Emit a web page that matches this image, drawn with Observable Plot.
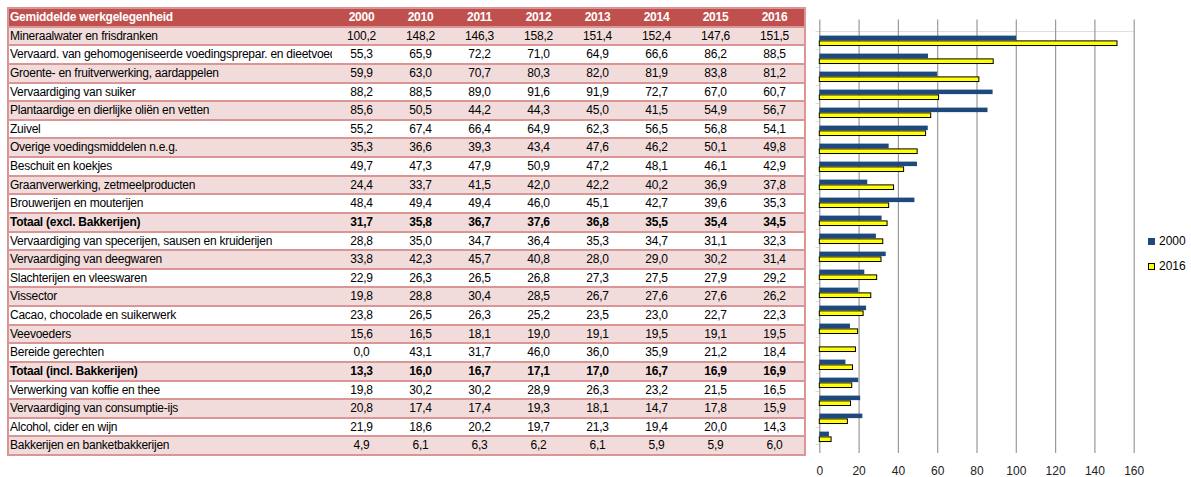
<!DOCTYPE html>
<html><head><meta charset="utf-8">
<script src="https://cdn.jsdelivr.net/npm/d3@7"></script>
<script src="https://cdn.jsdelivr.net/npm/@observablehq/plot@0.6"></script>
<style>
body{margin:0;background:#fff;font-family:"Liberation Sans",Arial,sans-serif;}
#wrap{position:relative;width:1191px;height:477px;overflow:hidden;}
.row{position:absolute;left:7px;width:799px;box-sizing:border-box;border:2px solid #D99694;display:flex;font-size:12px;letter-spacing:-0.25px;color:#000;}
.row div{white-space:nowrap;overflow:hidden;}
.lab{width:322px;padding-left:1px;flex:none;}
.num{width:59px;flex:none;text-align:center;}
.hdr{background:#C0504D;color:#fff;font-weight:bold;}
.pink{background:#F2DCDB;}
.bold{font-weight:bold;}
#chart{position:absolute;left:790px;top:0;}
.leg{position:absolute;left:1148px;font-size:12px;display:flex;align-items:center;color:#000;}
.sw{width:7px;height:7px;box-sizing:border-box;margin-right:4px;}
</style>
</head><body>
<div id="wrap"></div>
<script>
const headerLabel = "Gemiddelde werkgelegenheid";
const years = ["2000","2010","2011","2012","2013","2014","2015","2016"];
const categories = [
  "Mineraalwater en frisdranken",
  "Vervaard. van gehomogeniseerde voedingsprepar. en dieetvoeding",
  "Groente- en fruitverwerking, aardappelen",
  "Vervaardiging van suiker",
  "Plantaardige en dierlijke oliën en vetten",
  "Zuivel",
  "Overige voedingsmiddelen n.e.g.",
  "Beschuit en koekjes",
  "Graanverwerking, zetmeelproducten",
  "Brouwerijen en mouterijen",
  "Totaal (excl. Bakkerijen)",
  "Vervaardiging van specerijen, sausen en kruiderijen",
  "Vervaardiging van deegwaren",
  "Slachterijen en vleeswaren",
  "Vissector",
  "Cacao, chocolade en suikerwerk",
  "Veevoeders",
  "Bereide gerechten",
  "Totaal (incl. Bakkerijen)",
  "Verwerking van koffie en thee",
  "Vervaardiging van consumptie-ijs",
  "Alcohol, cider en wijn",
  "Bakkerijen en banketbakkerijen"
];
const boldRows = ["Totaal (excl. Bakkerijen)", "Totaal (incl. Bakkerijen)"];
const values = [
  [100.2,148.2,146.3,158.2,151.4,152.4,147.6,151.5],
  [55.3,65.9,72.2,71.0,64.9,66.6,86.2,88.5],
  [59.9,63.0,70.7,80.3,82.0,81.9,83.8,81.2],
  [88.2,88.5,89.0,91.6,91.9,72.7,67.0,60.7],
  [85.6,50.5,44.2,44.3,45.0,41.5,54.9,56.7],
  [55.2,67.4,66.4,64.9,62.3,56.5,56.8,54.1],
  [35.3,36.6,39.3,43.4,47.6,46.2,50.1,49.8],
  [49.7,47.3,47.9,50.9,47.2,48.1,46.1,42.9],
  [24.4,33.7,41.5,42.0,42.2,40.2,36.9,37.8],
  [48.4,49.4,49.4,46.0,45.1,42.7,39.6,35.3],
  [31.7,35.8,36.7,37.6,36.8,35.5,35.4,34.5],
  [28.8,35.0,34.7,36.4,35.3,34.7,31.1,32.3],
  [33.8,42.3,45.7,40.8,28.0,29.0,30.2,31.4],
  [22.9,26.3,26.5,26.8,27.3,27.5,27.9,29.2],
  [19.8,28.8,30.4,28.5,26.7,27.6,27.6,26.2],
  [23.8,26.5,26.3,25.2,23.5,23.0,22.7,22.3],
  [15.6,16.5,18.1,19.0,19.1,19.5,19.1,19.5],
  [0.0,43.1,31.7,46.0,36.0,35.9,21.2,18.4],
  [13.3,16.0,16.7,17.1,17.0,16.7,16.9,16.9],
  [19.8,30.2,30.2,28.9,26.3,23.2,21.5,16.5],
  [20.8,17.4,17.4,19.3,18.1,14.7,17.8,15.9],
  [21.9,18.6,20.2,19.7,21.3,19.4,20.0,14.3],
  [4.9,6.1,6.3,6.2,6.1,5.9,5.9,6.0]
];
const seriesYears = ["2000","2016"];
const seriesColors = ["#1F497D","#FFFF00"];
const xTicks = [0,20,40,60,80,100,120,140,160];

const fmt = v => v.toFixed(1).replace(".", ",");
const wrap = d3.select("#wrap");

// ---- table ----
const top0 = 8, pitch = (455 - 8) / 24;
function addRow(i, cls, label, nums) {
  const r = wrap.append("div").attr("class", "row " + cls)
    .style("top", (top0 + i * pitch - 1) + "px")
    .style("height", (pitch + 2) + "px")
    .style("line-height", (pitch - 2) + "px");
  r.append("div").attr("class", "lab").text(label);
  nums.forEach(n => r.append("div").attr("class", "num").text(n));
}
addRow(0, "hdr", headerLabel, years);
categories.forEach((c, i) => {
  let cls = (i % 2 === 0) ? "pink" : "";
  if (boldRows.includes(c)) cls += " bold";
  addRow(i + 1, cls, c, values[i].map(fmt));
});

// ---- bar chart ----
const bars = [];
categories.forEach((c, i) => {
  bars.push({cat: c, year: "2000", value: values[i][0]});
  bars.push({cat: c, year: "2016", value: values[i][7]});
});
const mTop = 23.5, mBot = 24, H = 477;
const bw = (H - mTop - mBot) / categories.length;
const grid = "#9a9a9a";
const chart = Plot.plot({
  width: 360, height: H,
  marginLeft: 29.3, marginRight: 16.3, marginTop: mTop, marginBottom: mBot,
  style: {fontFamily: "Liberation Sans, Arial, sans-serif", fontSize: "12px", color: "#222", background: "transparent"},
  x: {domain: [0, 160], ticks: xTicks, tickSize: 0, tickPadding: 13, label: null, tickFormat: d => String(d)},
  y: {domain: categories, padding: 0, axis: null},
  marks: [
    Plot.ruleX(xTicks, {stroke: grid, strokeWidth: 1.2, insetTop: -4}),
    // top frame line
    Plot.barX([categories[0]], {y: d => d, x1: -2, x2: 160, insetBottom: bw - 1, fill: grid}),
    // category boundary ticks
    Plot.barX(categories.slice(1), {y: d => d, x1: -2, x2: 0, insetBottom: bw - 1, fill: grid}),
    Plot.barX([categories[categories.length - 1]], {y: d => d, x1: -2, x2: 0, insetTop: bw - 1, fill: grid}),
    Plot.barX(bars.filter(d => d.year === "2000"), {y: "cat", x: "value", fill: seriesColors[0], insetTop: 4.6, insetBottom: bw - 9.8}),
    Plot.barX(bars.filter(d => d.year === "2016"), {y: "cat", x: "value", fill: seriesColors[1], stroke: "#000", strokeWidth: 1, insetTop: 9.9, insetBottom: bw - 15.2})
  ]
});
chart.id = "chart";
wrap.node().appendChild(chart);

// ---- legend ----
seriesYears.forEach((y, i) => {
  const l = wrap.append("div").attr("class", "leg").style("top", (234 + i * 25) + "px");
  l.append("div").attr("class", "sw").style("background", seriesColors[i])
    .style("border", i === 1 ? "1px solid #000" : "none");
  l.append("span").text(y);
});
</script>
</body></html>
